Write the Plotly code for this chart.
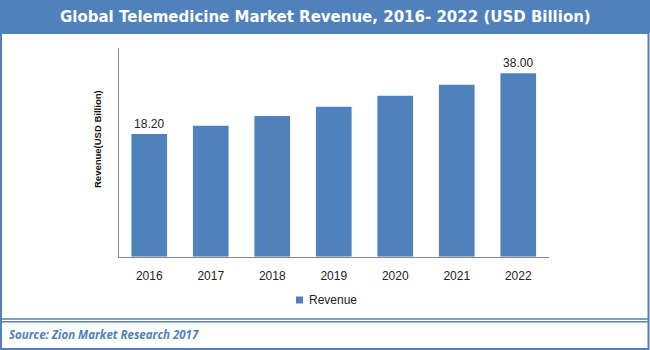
import plotly.graph_objects as go

# Telemedicine market revenue by year (USD Billion)
years = ["2016", "2017", "2018", "2019", "2020", "2021", "2022"]
revenue = [18.2, 20.9, 24.1, 27.1, 30.7, 34.3, 38.0]
label_years = ["2016", "2022"]
series_name = "Revenue"

W, H = 650, 350
BLUE = "#4F81BD"
AXIS_MIN, AXIS_MAX = -21.8, 46.25  # value axis floor and ceiling

def px_x(x):
    return x / W

def px_y(y):
    return 1 - y / H

bar_text = [f"{v:.2f}" if yr in label_years else "" for yr, v in zip(years, revenue)]

fig = go.Figure()
fig.add_trace(go.Bar(
    x=years,
    y=[v - AXIS_MIN for v in revenue],
    base=AXIS_MIN,
    name=series_name,
    marker=dict(color=BLUE, line=dict(width=0)),
    width=0.58,
    text=bar_text,
    textposition="outside",
    textfont=dict(family="Liberation Sans", size=12, color="#222222"),
    cliponaxis=False,
    customdata=revenue,
    hovertemplate="%{x}: %{customdata:.2f}<extra></extra>",
    showlegend=False,
))

shapes = [
    # title band
    dict(type="rect", xref="paper", yref="paper", x0=0, x1=1, y0=px_y(33), y1=1,
         fillcolor=BLUE, line=dict(width=0), layer="below"),
    # outer frame
    dict(type="rect", xref="paper", yref="paper", x0=px_x(1), x1=px_x(648.5),
         y0=px_y(349), y1=px_y(33), line=dict(color=BLUE, width=2), fillcolor="rgba(0,0,0,0)"),
    # double rule above the source line
    dict(type="line", xref="paper", yref="paper", x0=px_x(1), x1=px_x(648.5),
         y0=px_y(319), y1=px_y(319), line=dict(color=BLUE, width=1.5)),
    dict(type="line", xref="paper", yref="paper", x0=px_x(1), x1=px_x(648.5),
         y0=px_y(321.8), y1=px_y(321.8), line=dict(color=BLUE, width=1.5)),
    # legend swatch
    dict(type="rect", xref="paper", yref="paper", x0=px_x(296), x1=px_x(303),
         y0=px_y(303.5), y1=px_y(296.5), fillcolor=BLUE, line=dict(width=0)),
]

annotations = [
    dict(text="<b>Global Telemedicine Market Revenue, 2016- 2022 (USD Billion)</b>",
         xref="paper", yref="paper", x=0.5, y=px_y(17), xanchor="center", yanchor="middle",
         showarrow=False, font=dict(family="DejaVu Sans", size=15, color="white")),
    dict(text="<b><i>Source: Zion Market Research 2017</i></b>",
         xref="paper", yref="paper", x=px_x(7), y=px_y(334), xanchor="left", yanchor="middle",
         showarrow=False, font=dict(family="Open Sans", size=11.5, color=BLUE)),
    dict(text="<b>Revenue(USD Billion)</b>",
         xref="paper", yref="paper", x=px_x(97), y=px_y(139), xanchor="center", yanchor="middle",
         textangle=-90, showarrow=False,
         font=dict(family="Liberation Sans", size=9.5, color="#111111")),
    dict(text=series_name,
         xref="paper", yref="paper", x=px_x(307), y=px_y(300), xanchor="left", yanchor="middle",
         showarrow=False, font=dict(family="Liberation Sans", size=12, color="#222222")),
]

fig.update_layout(
    width=W, height=H,
    margin=dict(l=0, r=0, t=0, b=0),
    paper_bgcolor="white",
    plot_bgcolor="white",
    showlegend=False,
    shapes=shapes,
    annotations=annotations,
    xaxis=dict(domain=[px_x(118.5), px_x(549)], showline=True, linecolor="#868686", linewidth=1,
               ticks="outside", ticklen=8, tickcolor="rgba(0,0,0,0)",
               tickfont=dict(family="Liberation Sans", size=12, color="#222222"),
               showgrid=False, fixedrange=True),
    yaxis=dict(domain=[px_y(256.7), px_y(48)], range=[AXIS_MIN, AXIS_MAX],
               showline=True, linecolor="#868686", linewidth=1,
               showticklabels=False, ticks="", showgrid=False, zeroline=False, fixedrange=True),
)

fig.write_html("out.html")
